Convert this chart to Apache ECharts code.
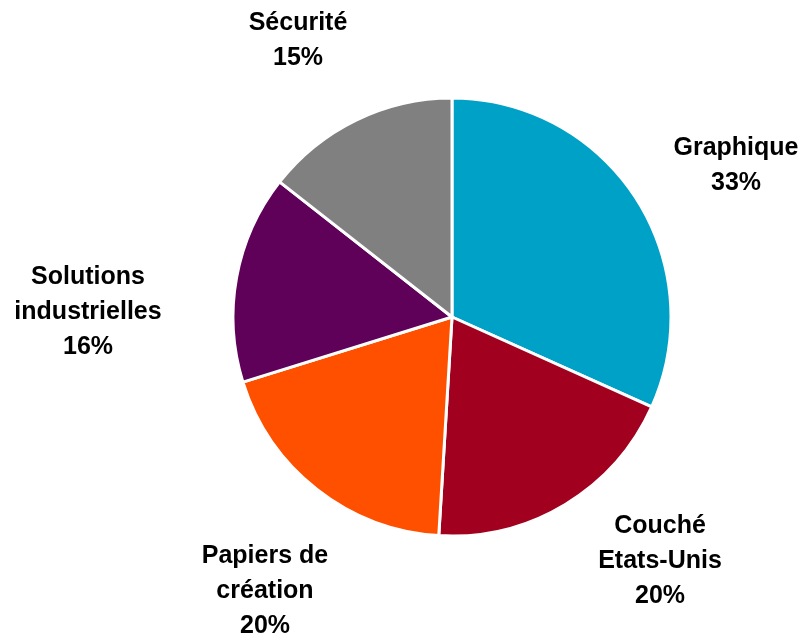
<!DOCTYPE html>
<html>
<head>
<meta charset="utf-8">
<script src="https://cdn.jsdelivr.net/npm/echarts@6/dist/echarts.min.js"></script>
<style>
  html, body { margin: 0; padding: 0; background: #ffffff; }
  #chart { width: 806px; height: 637px; }
</style>
</head>
<body>
<div id="chart"></div>
<script>
// Segment names (line breaks as displayed) and their shares in percent
const categories = ['Graphique', 'Couché\nEtats-Unis', 'Papiers de\ncréation', 'Solutions\nindustrielles', 'Sécurité'];
const shares = [33, 20, 20, 16, 15];
const colors = ['#00A1C7', '#A1001F', '#FF5000', '#5F0059', '#808080'];

// Label block centres, in pixels
const labelPositions = [[736, 166], [660, 561], [265, 591], [88, 312], [298, 41]];

const chart = echarts.init(document.getElementById('chart'), null, { renderer: 'canvas' });

chart.setOption({
  animation: false,
  backgroundColor: '#ffffff',
  series: [{
    type: 'pie',
    center: [452, 317],
    radius: [0, 219],
    startAngle: 90,
    clockwise: true,
    avoidLabelOverlap: false,
    itemStyle: { borderColor: '#ffffff', borderWidth: 3 },
    label: {
      show: true,
      position: 'outside',
      formatter: '{b}\n{c}%',
      fontFamily: 'Liberation Sans, Arial, sans-serif',
      fontWeight: 'bold',
      fontSize: 25,
      lineHeight: 35,
      color: '#000000',
      align: 'center'
    },
    labelLine: { show: false },
    labelLayout: function (params) {
      const p = labelPositions[params.dataIndex];
      return { x: p[0], y: p[1], align: 'center', verticalAlign: 'middle' };
    },
    data: categories.map((name, i) => ({
      name: name,
      value: shares[i],
      itemStyle: { color: colors[i] }
    }))
  }]
});
</script>
</body>
</html>
